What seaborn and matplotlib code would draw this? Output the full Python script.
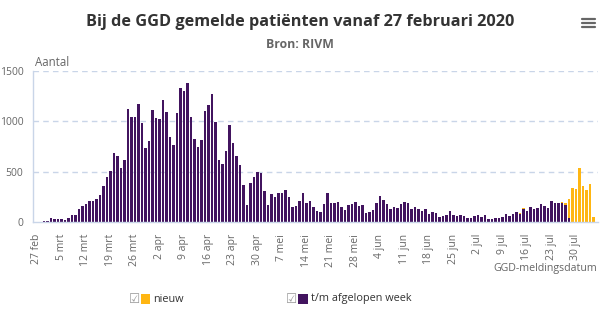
import matplotlib
matplotlib.use("Agg")
import matplotlib.pyplot as plt
import seaborn as sns
import pandas as pd
from matplotlib.patches import Rectangle
from matplotlib.lines import Line2D

# ---- data ----
start_date = "2020-02-27"
tm_afgelopen_week = [
    2, 0, 8, 10, 38, 33, 33, 33, 22, 38,
    65, 72, 125, 158, 180, 210, 210, 225, 265, 360,
    450, 505, 690, 660, 535, 615, 1120, 1045, 1045, 1170,
    980, 740, 800, 1115, 1036, 1020, 1215, 1092, 847, 760,
    1086, 1331, 1301, 1384, 1042, 820, 747, 810, 1105, 1162,
    1272, 993, 614, 578, 707, 963, 783, 654, 568, 372,
    169, 388, 448, 495, 488, 309, 169, 276, 246, 292,
    292, 322, 246, 146, 159, 212, 292, 184, 206, 151,
    108, 97, 178, 286, 192, 192, 202, 145, 121, 165,
    181, 198, 161, 168, 91, 97, 118, 185, 255, 215,
    181, 128, 151, 138, 178, 202, 192, 128, 145, 128,
    114, 134, 81, 97, 87, 47, 64, 67, 106, 71,
    64, 67, 60, 40, 44, 64, 67, 54, 67, 30,
    30, 37, 44, 50, 84, 60, 75, 95, 82, 130,
    112, 148, 129, 142, 176, 160, 135, 212, 184, 184,
    190, 165, 40, 0, 0, 0, 0, 0, 0, 0,
]
nieuw = [0] * 138 + [6, 5] + [0] * 10 + [6, 25, 187, 335, 330, 537, 355, 315, 382, 47]

tick_labels = ["27 feb", "5 mrt", "12 mrt", "19 mrt", "26 mrt", "2 apr", "9 apr",
               "16 apr", "23 apr", "30 apr", "7 mei", "14 mei", "21 mei", "28 mei",
               "4 jun", "11 jun", "18 jun", "25 jun", "2 jul", "9 jul", "16 jul",
               "23 jul", "30 jul"]
y_ticks = [0, 500, 1000, 1500]

title = "Bij de GGD gemelde patiënten vanaf 27 februari 2020"
subtitle = "Bron: RIVM"
series_names = ["nieuw", "t/m afgelopen week"]

# ---- styling ----
PURPLE = "#42145F"
ORANGE = "#FFB612"
GRID = "#C9D5E8"
TXT = "#666666"
FONT = "Open Sans"

sns.set_style("white")
plt.rcParams["font.family"] = [FONT, "DejaVu Sans"]

n = len(tm_afgelopen_week)
df = pd.DataFrame({
    "dag": list(range(n)),
    "datum": pd.date_range(start_date, periods=n, freq="D"),
    "tm": tm_afgelopen_week,
    "nieuw": nieuw,
})
df["totaal"] = df["tm"] + df["nieuw"]

fig = plt.figure(figsize=(6.0, 3.25), dpi=100)
W, H = 600, 325
ax_left, ax_right, ax_top, ax_bottom = 33, 598, 71, 222
ax = fig.add_axes([ax_left / W, 1 - ax_bottom / H, (ax_right - ax_left) / W, (ax_bottom - ax_top) / H])

sns.barplot(data=df, x="dag", y="totaal", color=ORANGE, saturation=1, width=0.75,
            native_scale=True, ax=ax, linewidth=0, errorbar=None)
sns.barplot(data=df, x="dag", y="tm", color=PURPLE, saturation=1, width=0.75,
            native_scale=True, ax=ax, linewidth=0, errorbar=None)

ax.set_xlim(-1.14, 160.3)
ax.set_ylim(0, 1500)
ax.set_xlabel("")
ax.set_ylabel("")

ax.set_yticks(y_ticks)
ax.set_yticklabels([str(v) for v in y_ticks], fontsize=7.5, color=TXT)
ax.tick_params(axis="y", length=0, pad=7)

ax.set_xticks(list(range(0, 7 * len(tick_labels), 7)))
ax.set_xticklabels(tick_labels, rotation=90, fontsize=7.5, color=TXT, va="top", ha="center")
ax.tick_params(axis="x", length=5, width=1, color=GRID, pad=3.5)

for v in y_ticks[1:]:
    ax.axhline(v, color=GRID, lw=1, ls=(0, (4, 3)), zorder=0)

for s in ["top", "right"]:
    ax.spines[s].set_visible(False)
ax.spines["bottom"].set_color(GRID)
ax.spines["left"].set_color(GRID)
ax.spines["bottom"].set_linewidth(1)
ax.spines["left"].set_linewidth(1)

# texts
fig.text(300 / W, 1 - 22 / H, title, ha="center", va="center", fontsize=11.7,
         fontweight="bold", color="#333333")
fig.text(300 / W, 1 - 45 / H, subtitle, ha="center", va="center", fontsize=8.8,
         fontweight="bold", color=TXT)
fig.text(35 / W, 1 - 62 / H, "Aantal", ha="left", va="center", fontsize=8.3, color=TXT)
fig.text(597 / W, 1 - 269 / H, "GGD-meldingsdatum", ha="right", va="center",
         fontsize=7.7, color=TXT)

# hamburger menu icon
for yy in (19, 23.3, 27.3):
    fig.add_artist(Line2D([582 / W, 595 / W], [1 - yy / H, 1 - yy / H], color=TXT, lw=1.6))

# legend
ly = 299
for cb_x, sq_x, tx_x, col, name in [(129, 140.5, 153, ORANGE, series_names[0]),
                                     (286, 298, 311, PURPLE, series_names[1])]:
    fig.text(cb_x / W, 1 - ly / H, "\u2611", ha="left", va="center", fontsize=9,
             color="#999999", family="DejaVu Sans")
    fig.add_artist(Rectangle((sq_x / W, 1 - (ly + 5) / H), 9.5 / W, 10 / H,
                             facecolor=col, edgecolor="none", transform=fig.transFigure))
    fig.text(tx_x / W, 1 - ly / H, name, ha="left", va="center", fontsize=7.8, color="#333333")

fig.savefig("out.png", dpi=100)
